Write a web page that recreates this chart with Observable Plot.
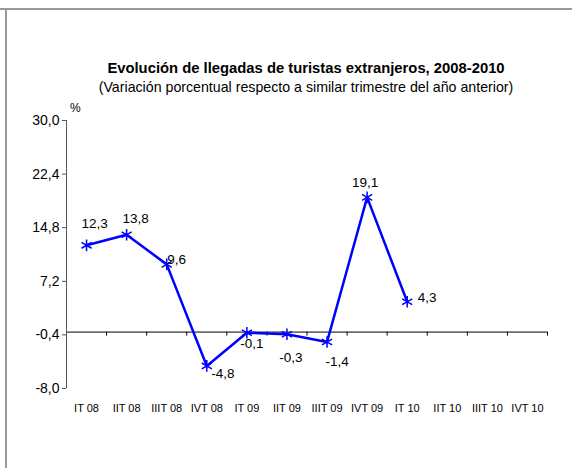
<!DOCTYPE html>
<html><head><meta charset="utf-8">
<script src="https://cdn.jsdelivr.net/npm/d3@7"></script>
<script src="https://cdn.jsdelivr.net/npm/@observablehq/plot@0.6"></script>
<style>
body{margin:0;background:#fff;}
#wrap{position:relative;width:572px;height:468px;overflow:hidden;font-family:"Liberation Sans",Arial,sans-serif;background:#fff;}
.ftop{position:absolute;left:0;top:8px;width:572px;height:2px;background:#9a9a9a;}
.fleft{position:absolute;left:5px;top:8px;width:2px;height:460px;background:#9a9a9a;}
#title{position:absolute;top:60px;left:0;width:612px;text-align:center;font-weight:bold;font-size:14.8px;color:#000;white-space:nowrap;}
#subtitle{position:absolute;top:79px;left:0;width:612px;text-align:center;font-size:14.2px;color:#000;white-space:nowrap;}
#pct{position:absolute;top:101px;left:70px;font-size:12px;color:#000;}
#chart{position:absolute;left:0;top:0;}
</style></head>
<body>
<div id="wrap">
  <div id="chart"></div>
  <div class="ftop"></div>
  <div class="fleft"></div>
  <div id="title">Evolución de llegadas de turistas extranjeros, 2008-2010</div>
  <div id="subtitle">(Variación porcentual respecto a similar trimestre del año anterior)</div>
  <div id="pct">%</div>
</div>
<script>
const categories = ["IT 08","IIT 08","IIIT 08","IVT 08","IT 09","IIT 09","IIIT 09","IVT 09","IT 10","IIT 10","IIIT 10","IVT 10"];
const values = [12.3, 13.8, 9.6, -4.8, -0.1, -0.3, -1.4, 19.1, 4.3];
const yTicks = [30, 22.4, 14.8, 7.2, -0.4, -8];

const data = values.map((v, i) => ({i, v}));
const fmt = d => d.toFixed(1).replace(".", ",");
const labelOffsets = [[8,-22],[9,-16],[10,-5],[16,8],[5,11],[4,23],[10,20],[-2,-15],[20,-4]];

const labelMarks = data.map((d, k) => Plot.text([d], {
  x: d => d.i + 0.5, y: "v", text: d => fmt(d.v),
  dx: labelOffsets[k][0], dy: labelOffsets[k][1],
  fontSize: 13.5, fill: "#000"
}));

const chart = Plot.plot({
  width: 572, height: 468,
  marginLeft: 66, marginRight: 25, marginTop: 120, marginBottom: 80,
  x: {domain: [0, 12], axis: null, label: null},
  y: {domain: [-8, 30], axis: null, label: null},
  style: {fontFamily: "'Liberation Sans', Arial, sans-serif", background: "transparent", color: "#000"},
  marks: [
    Plot.ruleY([0], {stroke: "#000", strokeWidth: 1}),
    Plot.ruleX(d3.range(1, 13), {x: d => d, y1: 0, y2: -0.57, stroke: "#000"}),
    Plot.ruleX([0], {stroke: "#555"}),
    Plot.axisY(yTicks, {tickFormat: fmt, tickSize: 4, tickPadding: 3, fontSize: 14, stroke: "#555", fill: "#000", label: null}),
    Plot.axisX(categories.map((c, i) => i + 0.5), {tickFormat: d => categories[Math.floor(d)], tickSize: 0, tickPadding: 16, fontSize: 11, fill: "#000", label: null}),
    Plot.line(data, {x: d => d.i + 0.5, y: "v", stroke: "#0000ff", strokeWidth: 2.5}),
    Plot.dot(data, {x: d => d.i + 0.5, y: "v", symbol: "asterisk", r: 5.5, stroke: "#0000ff", strokeWidth: 1.5}),
    ...labelMarks
  ]
});
document.getElementById("chart").appendChild(chart);
</script>
</body></html>
